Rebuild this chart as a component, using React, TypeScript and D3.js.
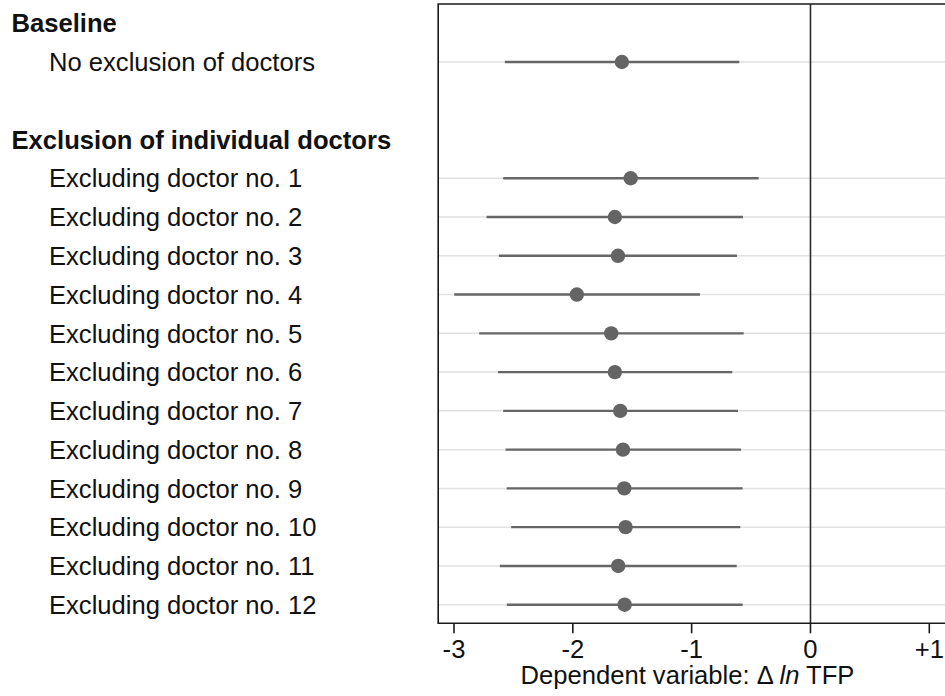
import * as d3 from "d3";

// rows: header / estimate rows, top to bottom
const rowLabels = [
  "Baseline",
  "No exclusion of doctors",
  "",
  "Exclusion of individual doctors",
  "Excluding doctor no. 1",
  "Excluding doctor no. 2",
  "Excluding doctor no. 3",
  "Excluding doctor no. 4",
  "Excluding doctor no. 5",
  "Excluding doctor no. 6",
  "Excluding doctor no. 7",
  "Excluding doctor no. 8",
  "Excluding doctor no. 9",
  "Excluding doctor no. 10",
  "Excluding doctor no. 11",
  "Excluding doctor no. 12",
];
const headerRows = [0, 3];
const estimateRows = [1, 4, 5, 6, 7, 8, 9, 10, 11, 12, 13, 14, 15];

const estimates = [-1.587, -1.513, -1.646, -1.62, -1.966, -1.677, -1.646, -1.601, -1.578, -1.567, -1.556, -1.618, -1.564];
const ciLow = [-2.572, -2.586, -2.726, -2.622, -2.998, -2.788, -2.63, -2.586, -2.566, -2.557, -2.519, -2.614, -2.555];
const ciHigh = [-0.599, -0.436, -0.568, -0.619, -0.93, -0.562, -0.658, -0.61, -0.585, -0.571, -0.591, -0.621, -0.571];

const tickValues = [-3, -2, -1, 0, 1];
const tickLabels = ["-3", "-2", "-1", "0", "+1"];

const width = 945;
const height = 696;
const font = "'Liberation Sans', Arial, Helvetica, sans-serif";
const fs = 25.6;

export default function App() {
  const x = d3.scaleLinear([-3, 1], [454, 929.3]);
  const y = d3.scaleLinear([0, 15], [23.2, 604.7]);
  const plotTop = 4;
  const plotBottom = 623.3;
  const plotLeft = x(-3.133);
  const plotRight = x(1.3);

  return (
    <div style={{ position: "absolute", left: 0, top: 0 }}>
      <svg width={width} height={height} style={{ display: "block", fontFamily: font }}>
        <rect width={width} height={height} fill="white" />

        {/* grid lines for estimate rows */}
        {estimateRows.map((r) => (
          <line key={"g" + r} x1={plotLeft} x2={plotRight} y1={y(r)} y2={y(r)} stroke="#e1e1e1" strokeWidth={1.5} />
        ))}

        {/* zero line */}
        <line x1={x(0)} x2={x(0)} y1={plotTop} y2={plotBottom} stroke="#2b2b2b" strokeWidth={1.6} />

        {/* plot frame */}
        <path
          d={`M${plotRight},${plotTop}H${plotLeft}V${plotBottom}H${plotRight}`}
          fill="none"
          stroke="#1a1a1a"
          strokeWidth={1.6}
        />

        {/* confidence intervals and point estimates */}
        {estimateRows.map((r, i) => (
          <g key={"e" + r}>
            <line x1={x(ciLow[i])} x2={x(ciHigh[i])} y1={y(r)} y2={y(r)} stroke="#666666" strokeWidth={2.4} />
            <circle cx={x(estimates[i])} cy={y(r)} r={7.2} fill="#646464" />
          </g>
        ))}

        {/* x axis ticks */}
        {tickValues.map((t, i) => (
          <g key={"t" + t}>
            <line x1={x(t)} x2={x(t)} y1={plotBottom} y2={plotBottom + 10} stroke="#1a1a1a" strokeWidth={1.6} />
            <text x={x(t)} y={658} textAnchor="middle" fontSize={fs} fill="#111">
              {tickLabels[i]}
            </text>
          </g>
        ))}

        <text x={687.5} y={684} textAnchor="middle" fontSize={fs} fill="#111">
          Dependent variable: Δ <tspan fontStyle="italic">ln</tspan> TFP
        </text>

        {/* row labels */}
        {rowLabels.map((label, r) =>
          label ? (
            <text
              key={"l" + r}
              x={headerRows.includes(r) ? 11.5 : 49}
              y={y(r)}
              dy="0.36em"
              fontSize={fs}
              fontWeight={headerRows.includes(r) ? "bold" : "normal"}
              fill="#111"
            >
              {label}
            </text>
          ) : null
        )}
      </svg>
    </div>
  );
}
